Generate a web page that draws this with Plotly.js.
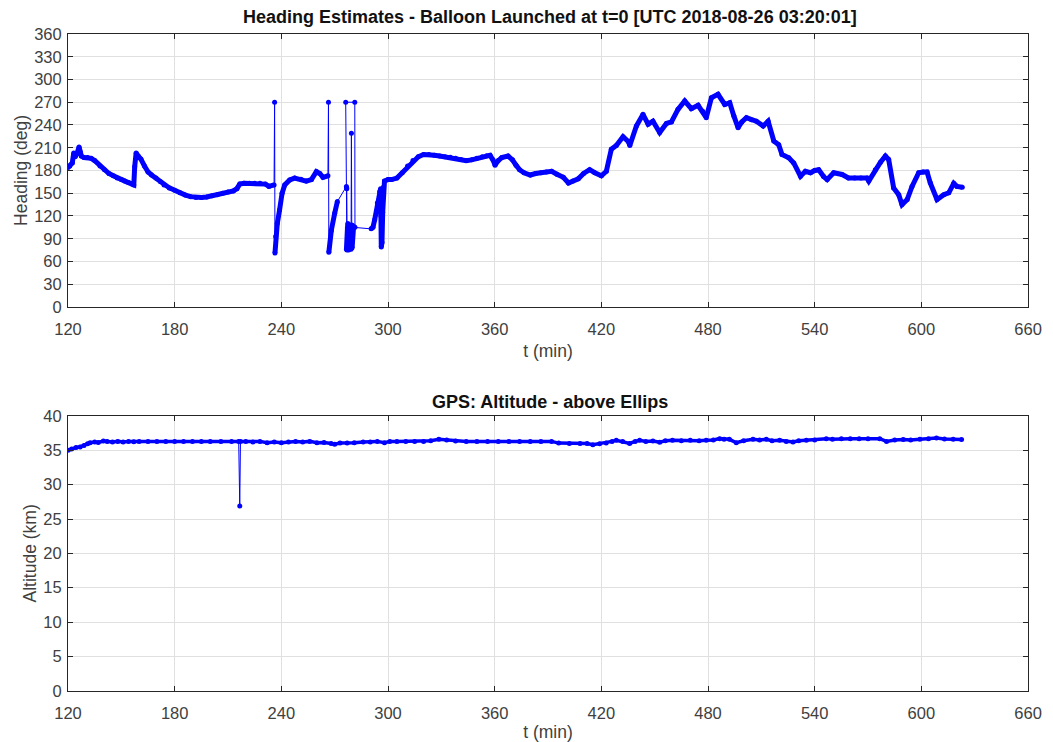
<!DOCTYPE html>
<html>
<head>
<meta charset="utf-8">
<script src="https://cdn.plot.ly/plotly-3.0.1.min.js"></script>
<style>html,body{margin:0;padding:0;background:#fff;}#chart{width:1053px;height:742px;}</style>
</head>
<body>
<div id="chart"></div>
<script>
// ---- Heading estimates (t in min, heading in deg) ----
var headingT = [
120,121,122.4,123.2,124,125,126.2,127,127.5,129,131,133,135,138,140.5,143,145.5,147.7,150,152,154,156,157,
157.5,158.3,159.5,161,163,165,167,169.5,172,174,177,180,183,186,189,192,195,198,201,204,207,210,213,215,
216.6,219,222,225,228,231,233,235.9,236.2,236.4,236.8,237.7,239,240.4,241.9,244.7,247.5,251,254,256.9,
259.7,261.6,263.4,266.2,266.5,266.7,268.1,270,271.5,276.6,276.8,276.9,276.2,281.3,281.4,279.6,279.4,279.2,
278.6,277.8,277.2,276.6,277.4,278.2,279,279.8,280.6,290.5,291.5,292.5,294,295.3,295.8,296,296.2,296.6,297,
297.4,298,300,302,305,308,311,314,317,320,323,326,329,332,335,338,341,344,347,350,353,355.5,357.4,359,
360.2,362,364,367.5,370,372,374,376.5,380,383,386,389,392,395,398.6,401.5,404,407,410,413.4,416.3,420,
422.8,425.6,428.4,432.2,435.2,436,439.7,443.4,446.3,449,452.8,456.6,459.4,463.1,466.9,470.6,474.4,477,479,
481.9,485.6,489.4,492.2,494.5,496.9,499,501.6,504.5,507.2,511,513.8,517,519.75,521.6,525.4,528.2,532,
534.75,537.6,540,542.25,545,547,550.7,555.4,559,562.5,566,569.4,570.4,574.1,577,579.75,581.6,584.4,587.25,
589.1,592,594.75,598.5,601,603.2,605,608.8,612.6,615.4,618.2,620,623
];
var headingDeg = [
184,186,190,203,198,202,211,204,199,197,197,196,193,186,181,176,173,170,168,166,164,162,161,
185,203,199,195,186,178,174,170,165,161,157,154,150.5,147.5,145.5,144.5,144.5,145,146.5,148,150,151.5,153,156,
162,163,163,163,163,162,159,161,270,71,93,110,128,150,161,167.5,170,168.5,166,168,
178.5,176,171,173,270,72,101,123.5,139,159,156,75,270,270,105,108,229,76,
108,75,105,76,110,76,107,78,105,103,105,115,137,152,156,120,79,85,125,
158,166,168,168,170,177,186,193,198,201,201,200,199,198,197.5,196,194.5,193,194,196,198,199.5,200,194,
187,193,197,199,194,187,181,177,174,176,177,178,179,175,171,163.5,166,169,176,181,177,173,
179,208,213,224.5,218,213,238.6,254,241,245,230,242,244,260.6,271.6,261.5,266,258,249.6,
276,280.4,267,269.4,252,236.4,244,249.6,247,245,238.6,245,219,214,201,196.7,190,172.5,
179,177,180,181,172,168,177,174.7,170,170,170,170,166,181,191,199,194.5,157,148,
135,141.7,159,177,178,178,163.7,141.7,148,150.5,163,159,158
];

// ---- GPS altitude above ellipsoid (t in min, altitude in km) ----
var altT = [
120,122,124.5,126.8,129,131,132.4,135,137,139.9,142,145,148,151,154,157,160,165,170,175,180,185,190,195,200,
206,212,216,216.6,217,220,224,228,232,236,240,244,248,252,256,260,264,268,270,273,277,281,286,290,294,298,
301,305,310,315,320,324,328.6,333,338,344,350,356,362,368,374,380,386,392,396,402,408,412,415.2,419,422.7,
426,428.4,432,435.9,439,441.5,445,449,452.8,456,460,465,470,475,479,483,486.5,489,492,495.9,500,505.3,509,
512.8,516,520.3,524,527.8,531,535.3,540,546.5,550,555,560,565,570,576.6,580.4,585,589.8,594,599.2,604,608.5,
613,617.9,622.6
];
var altKm = [
35.0,35.2,35.4,35.5,35.7,35.95,36.1,36.2,36.15,36.35,36.3,36.2,36.3,36.2,36.3,36.25,36.3,36.3,36.3,36.3,36.3,36.3,36.3,36.3,36.3,
36.3,36.3,36.3,26.9,36.3,36.3,36.2,36.3,36.1,36.2,36.1,36.2,36.3,36.2,36.3,36.1,36.15,36.0,35.9,36.05,36.05,36.1,36.2,36.2,36.3,36.1,
36.3,36.3,36.3,36.3,36.3,36.4,36.6,36.5,36.35,36.3,36.3,36.3,36.3,36.3,36.3,36.3,36.3,36.3,36.05,36.0,36.0,36.0,35.8,35.95,36.07,
36.3,36.46,36.3,36.0,36.3,36.46,36.3,36.36,36.17,36.4,36.46,36.4,36.46,36.4,36.46,36.5,36.7,36.6,36.6,36.1,36.4,36.6,36.5,
36.6,36.4,36.46,36.3,36.2,36.4,36.46,36.5,36.7,36.6,36.7,36.7,36.7,36.7,36.7,36.3,36.5,36.56,36.5,36.6,36.7,36.8,
36.65,36.6,36.56
];

// Axis tick values
var xTicks = [120,180,240,300,360,420,480,540,600,660];
var headingTicks = [0,30,60,90,120,150,180,210,240,270,300,330,360];
var altTicks = [0,5,10,15,20,25,30,35,40];

// Split into dense (thick) segments: break on large jumps
function denseSegments(t, v, maxDt, maxDv) {
  var xs = [], ys = [];
  for (var i = 0; i < t.length; i++) {
    xs.push(t[i]); ys.push(v[i]);
    if (i < t.length - 1 && (Math.abs(t[i+1]-t[i]) > maxDt || Math.abs(v[i+1]-v[i]) > maxDv)) {
      xs.push(null); ys.push(null);
    }
  }
  return {x: xs, y: ys};
}

var BLUE = '#0000ff';
var hd = denseSegments(headingT, headingDeg, 5.0, 70);
var ad = denseSegments(altT, altKm, 7, 3);

var traces = [
  {x: headingT, y: headingDeg, type: 'scatter', mode: 'lines+markers', xaxis: 'x', yaxis: 'y',
   line: {color: BLUE, width: 1}, marker: {color: BLUE, size: 5}, hoverinfo: 'x+y'},
  {x: hd.x, y: hd.y, type: 'scatter', mode: 'lines', xaxis: 'x', yaxis: 'y',
   line: {color: BLUE, width: 5}, connectgaps: false, hoverinfo: 'skip'},
  {x: altT, y: altKm, type: 'scatter', mode: 'lines+markers', xaxis: 'x2', yaxis: 'y2',
   line: {color: BLUE, width: 1}, marker: {color: BLUE, size: 5}, hoverinfo: 'x+y'},
  {x: ad.x, y: ad.y, type: 'scatter', mode: 'lines', xaxis: 'x2', yaxis: 'y2',
   line: {color: BLUE, width: 3.5}, connectgaps: false, hoverinfo: 'skip'}
];

var FONT = 'Liberation Sans, Arial, Helvetica, sans-serif';
var AXC = '#262626';
var GRID = '#e0e0e0';
function xax(anchor, domain) {
  return {domain: domain, anchor: anchor, range: [120, 660], tickvals: xTicks, ticktext: xTicks.map(String),
    ticks: 'inside', ticklen: 5, tickcolor: AXC, showline: true, linecolor: AXC, linewidth: 1, mirror: 'ticks',
    showgrid: true, gridcolor: GRID, gridwidth: 1, zeroline: false, ticklabelstandoff: 7,
    tickfont: {family: FONT, size: 16.5, color: '#404040'},
    title: {text: 't (min)', font: {family: FONT, size: 17.5, color: '#404040'}, standoff: 7}, fixedrange: true};
}
function yax(anchor, domain, range, ticks, title) {
  return {domain: domain, anchor: anchor, range: range, tickvals: ticks, ticktext: ticks.map(String),
    ticks: 'inside', ticklen: 5, tickcolor: AXC, showline: true, linecolor: AXC, linewidth: 1, mirror: 'ticks',
    showgrid: true, gridcolor: GRID, gridwidth: 1, zeroline: false, ticklabelstandoff: 2,
    tickfont: {family: FONT, size: 16.5, color: '#404040'},
    title: {text: title, font: {family: FONT, size: 17.5, color: '#404040'}, standoff: 2}, fixedrange: true};
}

var layout = {
  width: 1053, height: 742,
  margin: {l: 0, r: 0, t: 0, b: 0},
  paper_bgcolor: '#ffffff', plot_bgcolor: '#ffffff',
  showlegend: false,
  xaxis: xax('y', [0.0646, 0.9763]),
  yaxis: yax('x', [0.5863, 0.9542], [0, 360], headingTicks, 'Heading (deg)'),
  xaxis2: xax('y2', [0.0646, 0.9763]),
  yaxis2: yax('x2', [0.0691, 0.4394], [0, 40], altTicks, 'Altitude (km)'),
  annotations: [
    {text: '<b>Heading Estimates - Balloon Launched at t=0 [UTC 2018-08-26 03:20:01]</b>', xref: 'paper', yref: 'paper',
     x: 0.5225, y: 1 - 17/742, xanchor: 'center', yanchor: 'middle', showarrow: false,
     font: {family: FONT, size: 18, color: '#111111'}},
    {text: '<b>GPS: Altitude - above Ellips</b>', xref: 'paper', yref: 'paper',
     x: 0.5225, y: 1 - 402/742, xanchor: 'center', yanchor: 'middle', showarrow: false,
     font: {family: FONT, size: 18, color: '#111111'}}
  ]
};

Plotly.newPlot('chart', traces, layout, {displayModeBar: false, staticPlot: true});
</script>
</body>
</html>
